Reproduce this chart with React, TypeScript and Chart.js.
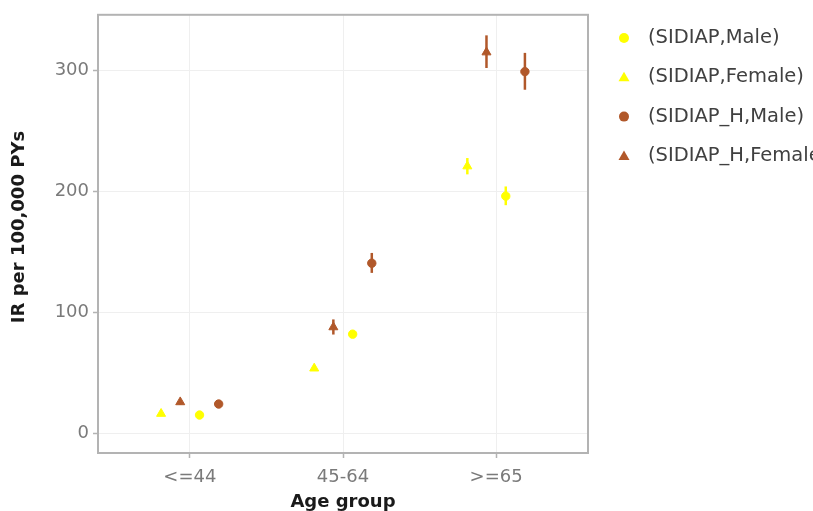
import React, { useEffect, useRef } from "react";
import { Chart, registerables } from "chart.js";

Chart.register(...registerables);

// Age groups on the x axis and the y tick values
const categories = ["<=44", "45-64", ">=65"];
const yTickValues = [0, 100, 200, 300];

// Incidence rates per 100,000 person-years, with 95% CI bounds
const sidiapMale = [14.9, 81.8, 196.0];
const sidiapMaleLow = [13.6, 79.0, 188.5];
const sidiapMaleHigh = [16.3, 84.6, 204.0];

const sidiapFemale = [16.0, 53.5, 220.7];
const sidiapFemaleLow = [14.8, 51.5, 214.0];
const sidiapFemaleHigh = [17.3, 55.8, 227.5];

const sidiapHMale = [24.0, 140.5, 299.0];
const sidiapHMaleLow = [21.8, 132.5, 284.0];
const sidiapHMaleHigh = [26.3, 149.0, 314.5];

const sidiapHFemale = [25.6, 87.6, 315.0];
const sidiapHFemaleLow = [23.5, 81.5, 302.0];
const sidiapHFemaleHigh = [27.8, 94.0, 329.0];

const legendLabels = [
  "(SIDIAP,Male)",
  "(SIDIAP,Female)",
  "(SIDIAP_H,Male)",
  "(SIDIAP_H,Female)",
];

const YELLOW = "#ffff00";
const BROWN = "#b1582a";
const FONT = "'DejaVu Sans', Verdana, sans-serif";

type Series = {
  label: string;
  values: number[];
  low: number[];
  high: number[];
  color: string;
  shape: "circle" | "triangle";
  offset: number;
};

// Dodged positions within each age group: females left, males right
const series: Series[] = [
  { label: legendLabels[0], values: sidiapMale, low: sidiapMaleLow, high: sidiapMaleHigh, color: YELLOW, shape: "circle", offset: 0.063 },
  { label: legendLabels[1], values: sidiapFemale, low: sidiapFemaleLow, high: sidiapFemaleHigh, color: YELLOW, shape: "triangle", offset: -0.188 },
  { label: legendLabels[2], values: sidiapHMale, low: sidiapHMaleLow, high: sidiapHMaleHigh, color: BROWN, shape: "circle", offset: 0.188 },
  { label: legendLabels[3], values: sidiapHFemale, low: sidiapHFemaleLow, high: sidiapHFemaleHigh, color: BROWN, shape: "triangle", offset: -0.063 },
];

function drawMarker(ctx: CanvasRenderingContext2D, shape: string, x: number, y: number, color: string) {
  ctx.fillStyle = color;
  ctx.beginPath();
  if (shape === "circle") {
    ctx.arc(x, y, 5, 0, Math.PI * 2);
  } else {
    ctx.moveTo(x, y - 5.5);
    ctx.lineTo(x + 5.5, y + 4);
    ctx.lineTo(x - 5.5, y + 4);
    ctx.closePath();
  }
  ctx.fill();
}

const errorBarsPlugin = {
  id: "errorBars",
  beforeDatasetsDraw(chart: any) {
    const { ctx } = chart;
    const xs = chart.scales.x;
    const ys = chart.scales.y;
    ctx.save();
    ctx.lineWidth = 2.5;
    series.forEach((s) => {
      ctx.strokeStyle = s.color;
      s.values.forEach((_, i) => {
        const px = xs.getPixelForValue(i + s.offset);
        ctx.beginPath();
        ctx.moveTo(px, ys.getPixelForValue(s.low[i]));
        ctx.lineTo(px, ys.getPixelForValue(s.high[i]));
        ctx.stroke();
      });
    });
    ctx.restore();
  },
};

const framePlugin = {
  id: "frameAndLabels",
  afterDraw(chart: any) {
    const { ctx, chartArea } = chart;
    ctx.save();
    // panel border
    ctx.strokeStyle = "#b3b3b3";
    ctx.lineWidth = 2;
    ctx.strokeRect(chartArea.left, chartArea.top, chartArea.right - chartArea.left, chartArea.bottom - chartArea.top);

    // axis titles
    ctx.fillStyle = "#1a1a1a";
    ctx.font = `bold 18px ${FONT}`;
    ctx.textAlign = "center";
    ctx.textBaseline = "middle";
    ctx.fillText("Age group", (chartArea.left + chartArea.right) / 2, 502);
    ctx.translate(19, 227);
    ctx.rotate(-Math.PI / 2);
    ctx.fillText("IR per 100,000 PYs", 0, 0);
    ctx.restore();

    // legend
    ctx.save();
    ctx.font = `19.5px ${FONT}`;
    ctx.textAlign = "left";
    ctx.textBaseline = "middle";
    series.forEach((s, i) => {
      const y = 38 + i * 39.3;
      drawMarker(ctx, s.shape, 624, y, s.color);
      ctx.fillStyle = "#404040";
      ctx.fillText(s.label, 648, y);
    });
    ctx.restore();
  },
};

export default function App() {
  const canvasRef = useRef<HTMLCanvasElement | null>(null);

  useEffect(() => {
    if (!canvasRef.current) return;
    const datasets = series.map((s) => ({
      label: s.label,
      data: s.values.map((v, i) => ({ x: i + s.offset, y: v })),
      pointStyle: s.shape,
      pointRadius: s.shape === "circle" ? 4.2 : 5.2,
      pointBackgroundColor: s.color,
      pointBorderColor: s.color,
      pointBorderWidth: 1,
      showLine: false,
    }));

    const chart = new Chart(canvasRef.current, {
      type: "scatter",
      data: { datasets },
      options: {
        animation: false,
        responsive: true,
        maintainAspectRatio: false,
        layout: { padding: { top: 14, right: 225, left: 0, bottom: 0 } },
        plugins: {
          legend: { display: false },
          tooltip: { enabled: false },
        },
        scales: {
          x: {
            type: "linear",
            min: -0.6,
            max: 2.6,
            afterBuildTicks: (scale: any) => {
              scale.ticks = categories.map((_, i) => ({ value: i }));
            },
            afterFit: (scale: any) => {
              scale.height = 58;
            },
            ticks: {
              callback: (v: any) => categories[Math.round(Number(v))] ?? "",
              color: "#7a7a7a",
              font: { family: FONT, size: 18 },
              padding: 9,
              maxRotation: 0,
            },
            grid: { color: "#efefef", lineWidth: 1, tickLength: 5, tickColor: "#b3b3b3", tickWidth: 1.5 },
            border: { display: false },
          },
          y: {
            type: "linear",
            min: -16.5,
            max: 346,
            afterBuildTicks: (scale: any) => {
              scale.ticks = yTickValues.map((v) => ({ value: v }));
            },
            afterFit: (scale: any) => {
              scale.width = 98;
            },
            ticks: {
              color: "#7a7a7a",
              font: { family: FONT, size: 18 },
              padding: 4,
            },
            grid: { color: "#efefef", lineWidth: 1, tickLength: 5, tickColor: "#b3b3b3", tickWidth: 1.5 },
            border: { display: false },
          },
        },
      },
      plugins: [errorBarsPlugin, framePlugin],
    });
    return () => chart.destroy();
  }, []);

  return (
    <div style={{ position: "fixed", left: 0, top: 0, width: 813, height: 511, background: "#fff" }}>
      <canvas ref={canvasRef} />
    </div>
  );
}
